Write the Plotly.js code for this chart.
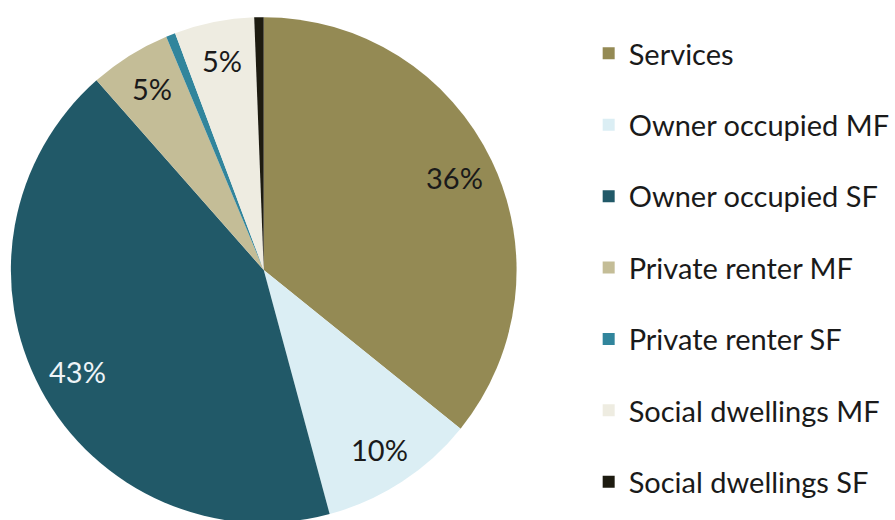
<!DOCTYPE html>
<html>
<head>
<meta charset="utf-8">
<script src="https://cdn.plot.ly/plotly-3.0.1.min.js"></script>
<style>
html,body{margin:0;padding:0;background:#fff;overflow:hidden;}
#chart{width:895px;height:530px;}
</style>
</head>
<body>
<div id="chart"></div>
<script>
const categories = ["Services","Owner occupied MF","Owner occupied SF","Private renter MF","Private renter SF","Social dwellings MF","Social dwellings SF"];
const shares = [35.8, 10.0, 42.7, 5.2, 0.6, 5.1, 0.6];
const colors = ["#948A54","#DBEEF4","#215968","#C4BD97","#31859C","#EEECE1","#1D1B10"];
const labelColors = ["#1a1a1a","#1a1a1a","#eef4f7","#1a1a1a","#1a1a1a","#1a1a1a","#ffffff"];

const W = 895, H = 530;
const FONT = "Lato, 'Open Sans', sans-serif";
// pie geometry in pixels (page coordinates)
const CX = 267, CY = 270, R = 256;
const LABEL_R = 0.835;

const total = shares.reduce((a, b) => a + b, 0);

const pie = {
  type: "pie",
  labels: categories,
  values: shares,
  sort: false,
  direction: "clockwise",
  rotation: 0,
  marker: {colors: colors, line: {width: 0}},
  textinfo: "none",
  showlegend: false,
  hoverinfo: "label+percent",
  domain: {x: [(CX - R) / W, (CX + R) / W], y: [(H - CY - R) / H, (H - CY + R) / H]}
};

// percentage labels placed at the middle angle of each slice (from the data)
const annotations = [];
let cum = 0;
shares.forEach((v, i) => {
  const mid = (cum + v / 2) / total * 2 * Math.PI;
  cum += v;
  if (v < 1) return;
  const px = CX + LABEL_R * R * Math.sin(mid);
  const py = CY - LABEL_R * R * Math.cos(mid);
  annotations.push({
    xref: "paper", yref: "paper",
    x: px / W, y: 1 - py / H,
    xanchor: "center", yanchor: "middle",
    text: Math.round(v / total * 100) + "%",
    showarrow: false,
    font: {family: FONT, size: 29, color: labelColors[i]}
  });
});

const legendTraces = categories.map((c, i) => ({
  type: "scatter",
  mode: "markers",
  x: [null], y: [null],
  name: c,
  legendgroup: "g" + i,
  marker: {symbol: "square", size: 15, color: colors[i]},
  showlegend: true,
  hoverinfo: "skip"
}));

const layout = {
  width: W, height: H,
  margin: {l: 0, r: 0, t: 0, b: 0},
  paper_bgcolor: "#fff",
  plot_bgcolor: "#fff",
  xaxis: {visible: false},
  yaxis: {visible: false},
  showlegend: true,
  annotations: annotations,
  legend: {
    x: 596 / W, xanchor: "left",
    y: 1 - 28 / H, yanchor: "top",
    traceorder: "grouped",
    tracegroupgap: 30.7,
    itemsizing: "constant",
    font: {family: FONT, size: 29, color: "#1a1a1a"},
    bgcolor: "rgba(0,0,0,0)"
  }
};

Plotly.newPlot("chart", [pie].concat(legendTraces), layout, {displayModeBar: false, staticPlot: true});
</script>
</body>
</html>
